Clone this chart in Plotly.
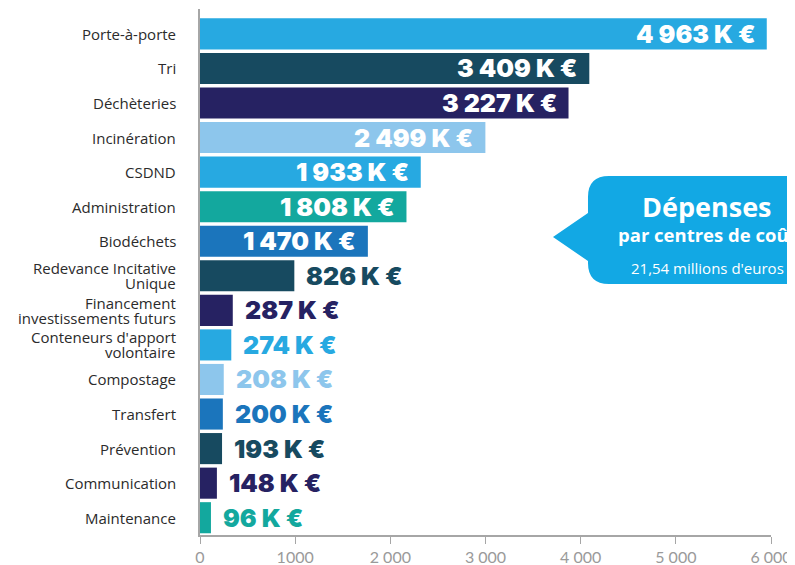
import plotly.graph_objects as go

categories = ["Porte-à-porte", "Tri", "Déchèteries", "Incinération", "CSDND",
              "Administration", "Biodéchets", "Redevance Incitative<br>Unique",
              "Financement<br>investissements futurs", "Conteneurs d'apport<br>volontaire",
              "Compostage", "Transfert", "Prévention", "Communication", "Maintenance"]
values = [4963, 3409, 3227, 2499, 1933, 1808, 1470, 826, 287, 274, 208, 200, 193, 148, 96]
colors = ["#27A9E1", "#174A60", "#262262", "#8DC6EC", "#27A9E1", "#13A89E", "#1B75BC",
          "#174A60", "#262262", "#27A9E1", "#8DC6EC", "#1B75BC", "#174A60", "#262262", "#13A89E"]
# the original infographic's axis: labels 0..6000, but bars drawn 1.2x longer than the ticks imply
axis_labels = [0, 1000, 2000, 3000, 4000, 5000, 6000]
tick_text = ["0", "1000", "2 000", "3 000", "4 000", "5 000", "6 000"]
bar_scale = 1.2
callout_title = "Dépenses"
callout_sub = "par centres de coût"
callout_total = "21,54 millions d'euros"

tick_vals = [a / bar_scale for a in axis_labels]
x_max = axis_labels[-1] / bar_scale

# page has an 8px body margin: figure is sized to fill the rest of the window
OFF = 8
W, H = 795 - OFF, 565 - OFF
L, R, T, B = 200 - OFF, 24, 9 - OFF, 30
pw, ph = W - L - R, H - T - B


def fmt(v):
    return f"{v:,}".replace(",", " ") + " K €"


fig = go.Figure(go.Bar(
    x=values, y=categories, orientation="h",
    marker=dict(color=colors, line=dict(width=0)),
    width=0.9, hoverinfo="skip",
))

annotations = []
for c, v, col in zip(categories, values, colors):
    inside = v >= 1000
    annotations.append(dict(
        x=v, y=c, xref="x", yref="y", text=fmt(v), showarrow=False,
        xanchor="right" if inside else "left", xshift=-10 if inside else 10,
        yshift=0,
        font=dict(family="Inter", size=25, weight=900,
                  color="white" if inside else col),
    ))
    # category label (drawn line by line for tight line spacing)
    lines = c.split("<br>")
    n = len(lines)
    for i, ln in enumerate(lines):
        annotations.append(dict(
            x=0, y=c, xref="x", yref="y", text=ln, showarrow=False,
            xanchor="right", yanchor="middle", xshift=-22,
            yshift=((n - 1) / 2 - i) * 15,
            font=dict(family="Open Sans", size=15, color="#2B2B2B"),
        ))


def px(x, y):
    # page pixel -> paper coordinates
    return (x - OFF - L) / pw, (H - B - (y - OFF)) / ph


def P(x, y):
    a, b = px(x, y)
    return f"{a:.4f},{b:.4f}"


path = (f"M {P(553,237)} L {P(588,213)} L {P(588,197)} Q {P(588,176)} {P(609,176)} "
        f"L {P(830,176)} L {P(830,284)} L {P(609,284)} Q {P(588,284)} {P(588,263)} "
        f"L {P(588,261)} Z")

shapes = [dict(type="path", path=path, xref="paper", yref="paper",
               fillcolor="#12A8E4", line=dict(width=0), layer="above")]

cx, _ = px(707, 0)
for txt, yy, sz, wt in [(callout_title, 206, 27, 700), (callout_sub, 234, 18.5, 700),
                        (callout_total, 268, 15, 400)]:
    _, py_ = px(0, yy)
    annotations.append(dict(x=cx, y=py_, xref="paper", yref="paper", text=txt,
                            showarrow=False, xanchor="center", yanchor="middle",
                            font=dict(family="Open Sans", size=sz, weight=wt, color="white")))

fig.update_layout(
    width=W, height=H, margin=dict(l=L, r=R, t=T, b=B, autoexpand=False),
    paper_bgcolor="white", plot_bgcolor="white", showlegend=False,
    xaxis=dict(range=[0, x_max], tickvals=tick_vals, ticktext=tick_text,
               showgrid=False, zeroline=False, showline=True, linecolor="#A6A6A6",
               linewidth=1.5, ticks="outside", ticklen=7, tickcolor="#A6A6A6",
               automargin=False,
               tickfont=dict(family="Lato", size=16, color="#9A9A9A"), fixedrange=True),
    yaxis=dict(range=[14.5, -0.72], showgrid=False, zeroline=False, showline=True,
               linecolor="#A6A6A6", linewidth=1.5, ticks="", showticklabels=False,
               automargin=False),
    annotations=annotations, shapes=shapes,
)

fig.write_html("out.html")
